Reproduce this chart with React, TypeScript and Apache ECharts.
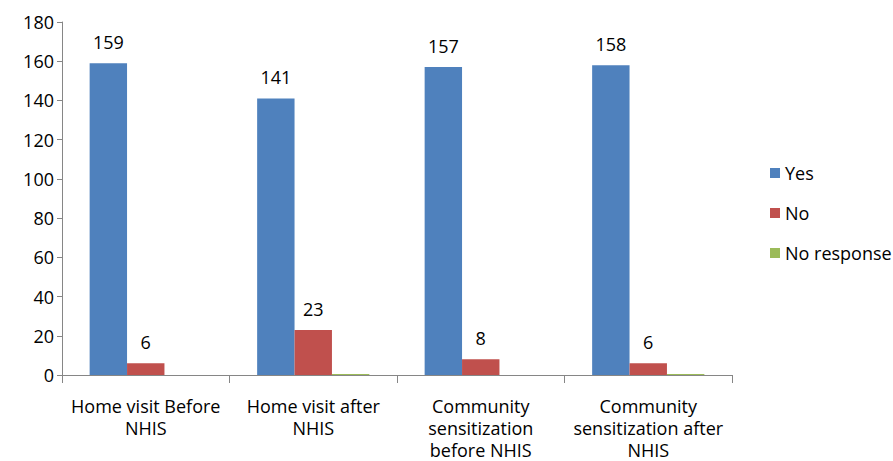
import React, { useEffect, useRef } from "react";
import * as echarts from "echarts";

const categories = [
  "Home visit Before\nNHIS",
  "Home visit after\nNHIS",
  "Community\nsensitization\nbefore NHIS",
  "Community\nsensitization after\nNHIS",
];
const yesValues = [159, 141, 157, 158];
const noValues = [6, 23, 8, 6];
const noResponseValues = [0, 0.5, 0, 0.5];
const seriesNames = ["Yes", "No", "No response"];
const colors = ["#4F81BD", "#C0504D", "#9BBB59"];

const FONT = "'Open Sans', 'Liberation Sans', sans-serif";

export default function App() {
  const ref = useRef<HTMLDivElement>(null);
  useEffect(() => {
    if (!ref.current) return;
    const chart = echarts.init(ref.current, null, { renderer: "svg" });
    const label = {
      show: true,
      position: "top" as const,
      distance: 12,
      color: "#000",
      fontSize: 18,
      fontFamily: FONT,
    };
    chart.setOption({
      animation: false,
      textStyle: { fontFamily: FONT },
      grid: {
        left: 62,
        right: 161,
        top: 22,
        bottom: 86,
        containLabel: false,
        outerBoundsMode: "none",
      },
      legend: {
        orient: "vertical",
        left: 765,
        top: 157,
        itemWidth: 10,
        itemHeight: 10,
        itemGap: 18,
        icon: "rect",
        textStyle: { fontSize: 18, color: "#000", fontFamily: FONT, lineHeight: 22 },
        data: seriesNames,
      },
      xAxis: {
        type: "category",
        data: categories,
        axisLine: { lineStyle: { color: "#868686" } },
        axisTick: { show: true, length: 8, alignWithLabel: false, lineStyle: { color: "#868686" } },
        axisLabel: {
          color: "#000",
          fontSize: 18,
          lineHeight: 22,
          margin: 20,
          interval: 0,
          fontFamily: FONT,
        },
      },
      yAxis: {
        type: "value",
        min: 0,
        max: 180,
        interval: 20,
        axisLine: { show: true, lineStyle: { color: "#868686" } },
        axisTick: { show: true, length: 5, lineStyle: { color: "#868686" } },
        splitLine: { show: false },
        axisLabel: { color: "#000", fontSize: 18, margin: 8, fontFamily: FONT },
      },
      series: [
        {
          name: seriesNames[0],
          type: "bar",
          data: yesValues,
          itemStyle: { color: colors[0] },
          barGap: "0%",
          barCategoryGap: "33%",
          label,
        },
        {
          name: seriesNames[1],
          type: "bar",
          data: noValues,
          itemStyle: { color: colors[1] },
          barGap: "0%",
          barCategoryGap: "33%",
          label,
        },
        {
          name: seriesNames[2],
          type: "bar",
          data: noResponseValues,
          itemStyle: { color: colors[2] },
          barGap: "0%",
          barCategoryGap: "33%",
          label: { show: false },
        },
      ],
    });
    return () => chart.dispose();
  }, []);
  return (
    <div
      ref={ref}
      style={{ position: "fixed", left: 0, top: 0, width: 893, height: 461, background: "#fff" }}
    />
  );
}
